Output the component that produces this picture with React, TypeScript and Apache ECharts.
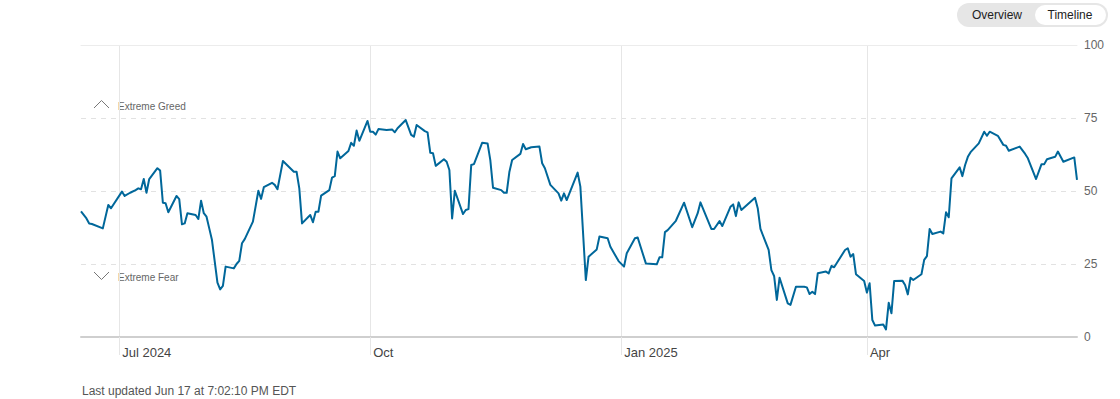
import React, { useEffect, useRef } from "react";
import * as echarts from "echarts";

const startDate = "2024-06-17";
const endDate = "2025-06-17";

const dates = [
  "2024-06-17","2024-06-19","2024-06-20","2024-06-21","2024-06-25","2024-06-27","2024-06-28",
  "2024-07-02","2024-07-03","2024-07-05","2024-07-07","2024-07-08","2024-07-09","2024-07-10",
  "2024-07-11","2024-07-12","2024-07-15","2024-07-16","2024-07-17","2024-07-18","2024-07-19",
  "2024-07-22","2024-07-23","2024-07-24","2024-07-25","2024-07-26","2024-07-29","2024-07-30",
  "2024-07-31","2024-08-01","2024-08-02","2024-08-03","2024-08-04","2024-08-06","2024-08-07",
  "2024-08-08","2024-08-09","2024-08-12","2024-08-13","2024-08-14","2024-08-15","2024-08-16",
  "2024-08-19","2024-08-21","2024-08-22","2024-08-23","2024-08-26","2024-08-27","2024-08-28",
  "2024-08-30","2024-09-03","2024-09-04","2024-09-05","2024-09-06","2024-09-09","2024-09-10",
  "2024-09-11","2024-09-12","2024-09-13","2024-09-16","2024-09-17","2024-09-18","2024-09-19",
  "2024-09-20","2024-09-23","2024-09-24","2024-09-25","2024-09-26","2024-09-27","2024-09-30",
  "2024-10-01","2024-10-02","2024-10-03","2024-10-04","2024-10-07","2024-10-09","2024-10-10",
  "2024-10-11","2024-10-14","2024-10-16","2024-10-17","2024-10-18","2024-10-21","2024-10-22",
  "2024-10-23","2024-10-24","2024-10-25","2024-10-28","2024-10-29","2024-10-30","2024-10-31",
  "2024-11-01","2024-11-04","2024-11-05","2024-11-06","2024-11-07","2024-11-08","2024-11-11",
  "2024-11-13","2024-11-14","2024-11-15","2024-11-18","2024-11-19","2024-11-20","2024-11-21",
  "2024-11-22","2024-11-25","2024-11-26","2024-11-27","2024-11-29","2024-12-02","2024-12-03",
  "2024-12-04","2024-12-06","2024-12-09","2024-12-10","2024-12-11","2024-12-12","2024-12-16",
  "2024-12-17","2024-12-19","2024-12-20","2024-12-23","2024-12-24","2024-12-27","2024-12-28",
  "2024-12-31","2025-01-02","2025-01-03","2025-01-06","2025-01-07","2025-01-10","2025-01-14",
  "2025-01-15","2025-01-16","2025-01-17","2025-01-18","2025-01-21","2025-01-24","2025-01-27",
  "2025-01-29","2025-01-30","2025-02-03","2025-02-04","2025-02-06","2025-02-07","2025-02-10",
  "2025-02-11","2025-02-12","2025-02-13","2025-02-14","2025-02-19","2025-02-20","2025-02-21",
  "2025-02-24","2025-02-25","2025-02-26","2025-02-27","2025-02-28","2025-03-03","2025-03-04",
  "2025-03-06","2025-03-09","2025-03-10","2025-03-11","2025-03-12","2025-03-13","2025-03-14",
  "2025-03-17","2025-03-18","2025-03-19","2025-03-20","2025-03-24","2025-03-25","2025-03-26",
  "2025-03-27","2025-03-28","2025-03-31","2025-04-01","2025-04-02","2025-04-03","2025-04-04",
  "2025-04-07","2025-04-08","2025-04-09","2025-04-10","2025-04-11","2025-04-14","2025-04-15",
  "2025-04-16","2025-04-17","2025-04-18","2025-04-21","2025-04-22","2025-04-23","2025-04-24",
  "2025-04-25","2025-04-28","2025-04-29","2025-04-30","2025-05-01","2025-05-02","2025-05-05",
  "2025-05-06","2025-05-07","2025-05-08","2025-05-09","2025-05-12","2025-05-14","2025-05-15",
  "2025-05-16","2025-05-19","2025-05-21","2025-05-22","2025-05-23","2025-05-27","2025-05-29",
  "2025-05-30","2025-06-02","2025-06-04","2025-06-05","2025-06-06","2025-06-09","2025-06-10",
  "2025-06-12","2025-06-16","2025-06-17"
];

const values = [
  43.0, 40.6, 38.9, 38.7, 37.2, 45.2, 44.1,
  49.8, 48.3, 49.4, 50.3, 50.9, 50.6, 54.1,
  49.4, 54.1, 57.8, 57.0, 46.0, 45.8, 42.7,
  48.3, 47.2, 38.6, 38.9, 42.4, 41.8, 40.4,
  46.7, 42.4, 41.2, 37.2, 33.2, 18.6, 16.3,
  17.5, 24.1, 23.5, 25.0, 26.1, 32.1, 33.5,
  39.5, 50.1, 47.3, 51.3, 52.8, 52.1, 50.6,
  60.3, 56.6, 56.6, 50.9, 38.9, 41.8, 39.3,
  42.9, 42.9, 48.4, 50.3, 54.6, 55.1, 63.5,
  61.2, 63.7, 66.5, 65.5, 70.7, 67.2, 74.0,
  70.3, 70.3, 69.3, 71.2, 70.9, 71.1, 70.1,
  71.5, 74.3, 69.2, 68.6, 72.6, 70.5, 70.1,
  63.1, 62.9, 58.6, 60.9, 60.0, 57.2, 40.6,
  50.1, 42.1, 43.5, 43.8, 58.9, 59.2, 66.5,
  66.3, 60.6, 51.1, 50.3, 49.4, 49.4, 56.6,
  60.6, 62.7, 66.1, 64.3, 65.0, 65.2, 59.5,
  57.8, 52.1, 49.2, 46.7, 49.2, 46.9, 56.3,
  51.5, 19.5, 27.5, 30.0, 34.4, 33.8, 30.9,
  26.0, 24.1, 28.7, 33.8, 34.1, 25.2, 24.9,
  27.3, 27.3, 35.9, 36.6, 39.8, 46.0, 37.6,
  42.4, 46.1, 37.0, 37.0, 39.7, 38.0, 44.6,
  45.4, 41.4, 46.1, 43.5, 47.7, 44.1, 37.0,
  29.8, 22.9, 20.9, 12.7, 20.3, 11.5, 11.0,
  17.2, 17.2, 17.0, 14.7, 15.5, 14.7, 21.8,
  22.4, 21.8, 24.3, 23.9, 29.8, 30.4, 27.5,
  28.4, 21.5, 19.2, 15.2, 18.4, 5.8, 3.9,
  4.3, 2.6, 11.7, 8.1, 19.2, 19.3, 17.8,
  14.6, 20.3, 19.5, 21.5, 26.4, 27.7, 37.0,
  35.3, 36.1, 35.5, 42.7, 41.0, 54.3, 58.1,
  55.1, 58.9, 61.7, 63.3, 66.3, 70.3, 68.9,
  70.3, 68.9, 65.8, 65.5, 63.8, 65.2, 62.7,
  61.2, 54.1, 59.2, 59.2, 60.9, 61.7, 63.5,
  60.0, 61.5, 53.8
];

const tickDates = ["2024-07-01", "2024-10-01", "2025-01-01", "2025-04-01"];
const tickLabels = ["Jul 2024", "Oct", "Jan 2025", "Apr"];
const yMin = 0;
const yMax = 100;
const yStep = 25;
const zoneLabels = ["Extreme Greed", "Extreme Fear"];
const buttonLabels = ["Overview", "Timeline"];
const footerText = "Last updated Jun 17 at 7:02:10 PM EDT";

const FONT = "'Liberation Sans', Arial, Helvetica, sans-serif";
const LINE_COLOR = "#00679a";

function ts(s: string): number {
  const [y, m, d] = s.split("-").map(Number);
  return new Date(y, m - 1, d).getTime();
}

export default function App() {
  const ref = useRef<HTMLDivElement>(null);

  useEffect(() => {
    if (!ref.current) return;
    const chart = echarts.init(ref.current, undefined, { renderer: "svg" });
    const tickVals = tickDates.map(ts);
    const data = dates.map((d, i) => [ts(d), values[i]]);
    const xMin = ts(startDate);
    const xMax = ts(endDate);

    chart.setOption({
      animation: false,
      textStyle: { fontFamily: FONT },
      grid: { left: 81, right: 43, top: 45, bottom: 62, containLabel: false },
      xAxis: [
        {
          type: "value",
          min: xMin,
          max: xMax,
          axisLine: { show: true, lineStyle: { color: "#cfcfcf", width: 2 } },
          axisTick: {
            show: true,
            customValues: tickVals,
            length: 18,
            inside: false,
            lineStyle: { color: "#e6e6e6", width: 1 },
          },
          axisLabel: {
            customValues: tickVals,
            formatter: (v: number) => {
              const i = tickVals.findIndex((t) => Math.abs(t - v) < 86400000);
              return i >= 0 ? tickLabels[i] : "";
            },
            align: "left",
            padding: [0, 0, 0, 3],
            color: "#444",
            fontSize: 13,
            fontFamily: FONT,
            margin: 9,
          },
          splitLine: { show: true, lineStyle: { color: "#e6e6e6", width: 1 } },
        },
        {
          type: "value",
          position: "top",
          min: xMin,
          max: xMax,
          axisLine: { show: true, lineStyle: { color: "#ececec", width: 1 } },
          axisTick: { show: false },
          axisLabel: { show: false },
          splitLine: { show: false },
        },
      ],
      yAxis: {
        type: "value",
        position: "right",
        min: yMin,
        max: yMax,
        interval: yStep,
        axisLine: { show: false },
        axisTick: { show: false },
        axisLabel: { color: "#666", fontSize: 12, fontFamily: FONT, margin: 7 },
        splitLine: { show: true, lineStyle: { color: "#e2e2e2", width: 1, type: [5, 5] } },
      },
      series: [
        {
          type: "line",
          data,
          xAxisIndex: 0,
          showSymbol: false,
          symbol: "none",
          lineStyle: { color: LINE_COLOR, width: 2, join: "round" },
          silent: true,
        },
      ],
      graphic: [
        {
          type: "rect",
          shape: { x: 957, y: 3, width: 151, height: 24, r: 12 },
          style: { fill: "#e6e6e6" },
        },
        {
          type: "rect",
          shape: { x: 1035, y: 5, width: 71, height: 20, r: 10 },
          style: { fill: "#ffffff" },
        },
        {
          type: "text",
          x: 997,
          y: 15,
          style: { text: buttonLabels[0], fill: "#222", fontSize: 12, fontFamily: FONT, align: "center", verticalAlign: "middle" },
        },
        {
          type: "text",
          x: 1070,
          y: 15,
          style: { text: buttonLabels[1], fill: "#222", fontSize: 12, fontFamily: FONT, align: "center", verticalAlign: "middle" },
        },
        {
          type: "polyline",
          shape: { points: [[94, 108], [101.5, 100.5], [109, 108]] },
          style: { stroke: "#777", lineWidth: 1, fill: "none" },
        },
        {
          type: "text",
          x: 118,
          y: 106.5,
          style: { text: zoneLabels[0], fill: "#666", fontSize: 10, fontFamily: FONT, align: "left", verticalAlign: "middle" },
        },
        {
          type: "polyline",
          shape: { points: [[94, 272], [101.5, 279.5], [109, 272]] },
          style: { stroke: "#777", lineWidth: 1, fill: "none" },
        },
        {
          type: "text",
          x: 118,
          y: 277.5,
          style: { text: zoneLabels[1], fill: "#666", fontSize: 10, fontFamily: FONT, align: "left", verticalAlign: "middle" },
        },
        {
          type: "text",
          x: 82,
          y: 391,
          style: { text: footerText, fill: "#555", fontSize: 12, fontFamily: FONT, align: "left", verticalAlign: "middle" },
        },
      ],
    });

    return () => chart.dispose();
  }, []);

  return (
    <div
      ref={ref}
      style={{ position: "fixed", left: 0, top: 0, width: 1120, height: 399, background: "#fff" }}
    />
  );
}
